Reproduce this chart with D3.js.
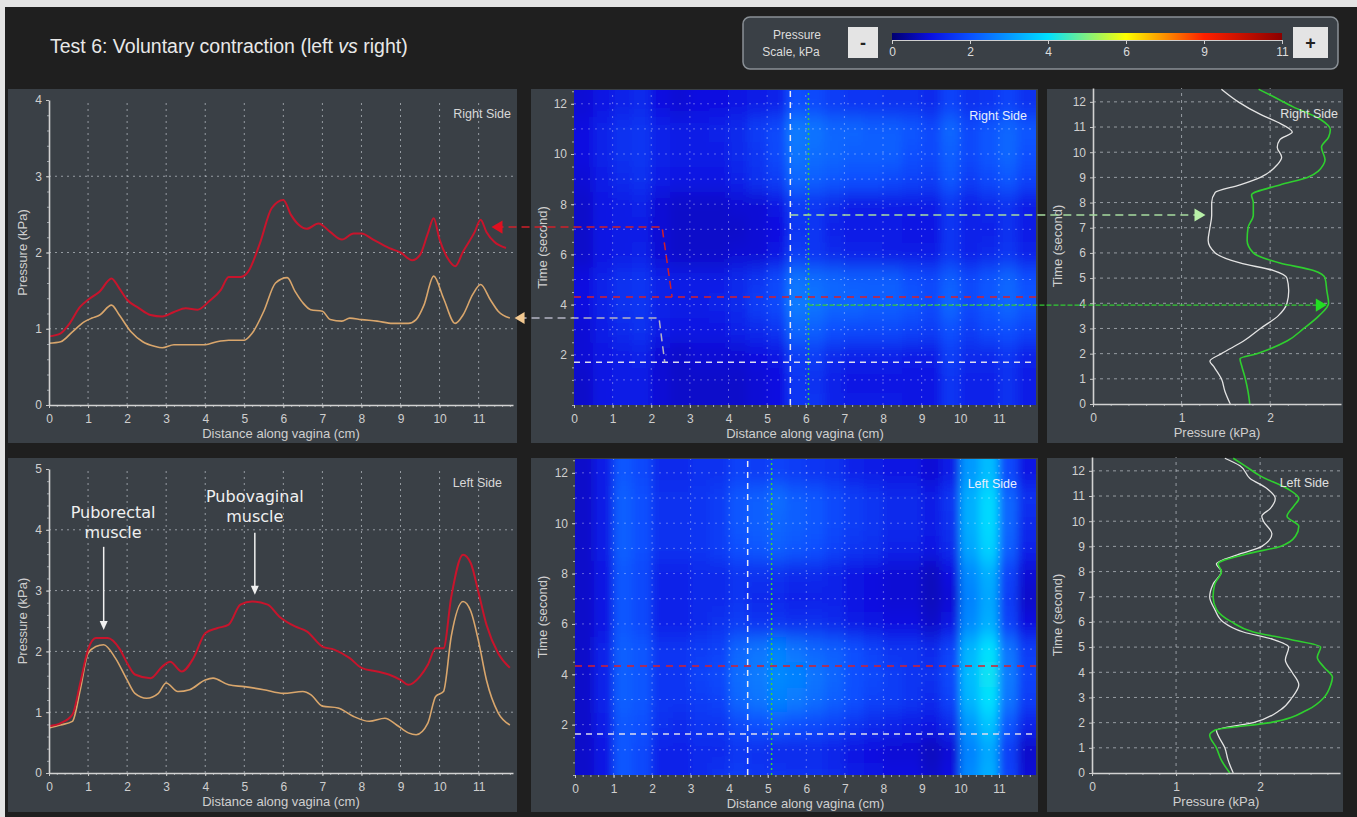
<!DOCTYPE html>
<html>
<head>
<meta charset="utf-8">
<script src="https://cdn.jsdelivr.net/npm/d3@7"></script>
<style>
  body { margin: 0; background: #e4e4e4; }
  svg { display: block; }
</style>
</head>
<body>
<script>
const FONT = "'Liberation Sans', Arial, sans-serif";

// ---- data ----
// right side, pressure along the vagina (cm, kPa)
const rightRed = [[0,0.9],[0.3,0.94],[0.5,1.05],[0.8,1.29],[1.0,1.38],[1.3,1.49],[1.6,1.66],[1.8,1.53],[2.0,1.38],[2.3,1.27],[2.6,1.18],[2.9,1.16],[3.2,1.22],[3.5,1.27],[3.8,1.25],[4.1,1.36],[4.4,1.51],[4.6,1.68],[4.9,1.68],[5.1,1.75],[5.4,2.12],[5.7,2.58],[6.0,2.69],[6.2,2.49],[6.4,2.36],[6.6,2.31],[6.9,2.38],[7.2,2.27],[7.5,2.17],[7.8,2.25],[8.0,2.25],[8.3,2.17],[8.7,2.06],[9.0,2.0],[9.3,1.9],[9.5,1.97],[9.7,2.25],[9.85,2.45],[10.0,2.17],[10.2,1.93],[10.4,1.82],[10.6,2.01],[10.9,2.27],[11.05,2.43],[11.2,2.27],[11.4,2.14],[11.7,2.06]];
const rightTan = [[0,0.81],[0.3,0.83],[0.6,0.96],[0.9,1.09],[1.1,1.14],[1.3,1.18],[1.6,1.31],[1.8,1.18],[2.1,0.96],[2.4,0.83],[2.7,0.77],[2.9,0.75],[3.2,0.79],[3.6,0.79],[4.0,0.79],[4.3,0.83],[4.6,0.85],[5.0,0.85],[5.2,0.94],[5.5,1.23],[5.8,1.6],[6.1,1.67],[6.3,1.49],[6.5,1.34],[6.7,1.25],[7.0,1.23],[7.2,1.12],[7.5,1.1],[7.7,1.14],[8.0,1.12],[8.4,1.1],[8.8,1.07],[9.2,1.07],[9.4,1.12],[9.6,1.31],[9.85,1.69],[10.1,1.4],[10.4,1.07],[10.6,1.18],[10.85,1.45],[11.05,1.58],[11.3,1.38],[11.5,1.23],[11.8,1.14]];
// left side, pressure along the vagina
const leftRed = [[0,0.77],[0.3,0.82],[0.6,0.96],[0.8,1.48],[1.0,2.03],[1.2,2.22],[1.5,2.22],[1.8,2.05],[2.0,1.81],[2.2,1.62],[2.6,1.56],[2.9,1.75],[3.1,1.83],[3.4,1.67],[3.7,1.89],[4.0,2.3],[4.3,2.38],[4.6,2.44],[4.9,2.77],[5.2,2.82],[5.6,2.77],[5.9,2.57],[6.3,2.41],[6.6,2.33],[7.0,2.08],[7.3,2.03],[7.7,1.89],[8.0,1.73],[8.4,1.67],[8.7,1.62],[9.0,1.53],[9.2,1.45],[9.5,1.59],[9.7,1.78],[9.9,2.05],[10.1,2.05],[10.3,2.9],[10.6,3.59],[10.8,3.45],[11.0,2.96],[11.2,2.44],[11.5,1.97],[11.8,1.73]];
const leftTan = [[0,0.74],[0.3,0.79],[0.6,0.85],[0.8,1.37],[1.0,1.97],[1.2,2.08],[1.4,2.11],[1.7,1.89],[2.0,1.53],[2.2,1.31],[2.5,1.23],[2.8,1.31],[3.0,1.48],[3.3,1.34],[3.6,1.37],[4.0,1.53],[4.2,1.56],[4.6,1.45],[5.0,1.42],[5.5,1.37],[6.0,1.31],[6.5,1.34],[6.7,1.29],[7.0,1.1],[7.4,1.07],[7.8,0.93],[8.2,0.85],[8.6,0.9],[8.9,0.79],[9.2,0.66],[9.4,0.63],[9.7,0.82],[9.9,1.26],[10.1,1.34],[10.3,2.25],[10.6,2.82],[10.8,2.66],[11.0,2.16],[11.2,1.53],[11.5,0.99],[11.8,0.79]];

// pressure over time (second, kPa)
const rightTimeWhite = [[0,1.55],[0.5,1.49],[1.0,1.45],[1.5,1.36],[1.7,1.32],[2.0,1.45],[2.5,1.7],[3.0,1.89],[3.5,2.09],[4.0,2.19],[4.5,2.21],[5.0,2.19],[5.3,2.04],[5.6,1.66],[6.0,1.38],[6.5,1.3],[7.0,1.32],[7.5,1.34],[8.0,1.34],[8.4,1.38],[8.7,1.66],[9.0,1.89],[9.5,2.08],[9.8,2.13],[10.2,2.08],[10.5,2.11],[10.8,2.25],[11.2,2.08],[11.5,1.89],[12.0,1.64],[12.5,1.45]];
const rightTimeGreen = [[0,1.77],[0.5,1.75],[1.0,1.72],[1.5,1.68],[1.8,1.66],[2.0,1.85],[2.5,2.19],[3.0,2.38],[3.5,2.55],[4.0,2.66],[4.5,2.64],[5.0,2.62],[5.3,2.49],[5.6,2.11],[6.0,1.81],[6.5,1.74],[7.0,1.75],[7.5,1.81],[8.0,1.81],[8.3,1.79],[8.7,2.11],[9.0,2.42],[9.5,2.6],[9.7,2.62],[10.2,2.58],[10.6,2.66],[10.9,2.68],[11.3,2.57],[11.8,2.26],[12.2,2.04],[12.5,1.87]];
const leftTimeWhite = [[0,1.68],[0.5,1.62],[1.0,1.58],[1.5,1.5],[1.7,1.48],[2.0,1.92],[2.5,2.24],[3.0,2.38],[3.5,2.46],[4.0,2.38],[4.5,2.3],[5.0,2.34],[5.3,2.16],[5.6,1.8],[6.0,1.56],[6.5,1.46],[7.0,1.4],[7.5,1.44],[8.0,1.54],[8.3,1.48],[8.7,1.76],[9.0,2.02],[9.5,2.14],[10.0,2.04],[10.2,2.02],[10.5,2.12],[10.9,2.18],[11.3,2.08],[11.7,1.88],[12.2,1.76],[12.5,1.58]];
const leftTimeGreen = [[0,1.64],[0.5,1.54],[1.0,1.48],[1.5,1.4],[1.7,1.46],[2.0,2.12],[2.5,2.56],[3.0,2.76],[3.5,2.84],[3.8,2.86],[4.2,2.76],[4.6,2.68],[5.0,2.72],[5.3,2.36],[5.6,1.92],[6.0,1.66],[6.5,1.48],[7.0,1.44],[7.5,1.46],[8.0,1.54],[8.3,1.5],[8.7,1.84],[9.0,2.24],[9.4,2.42],[9.8,2.46],[10.2,2.32],[10.6,2.4],[10.9,2.46],[11.3,2.32],[11.8,2.0],[12.2,1.82],[12.5,1.68]];

// pressure maps: columns along the vagina (cm), rows in time (s), values in kPa
const heatX = [0.25,0.75,1.25,1.75,2.25,2.75,3.25,3.75,4.25,4.75,5.25,5.75,6.25,6.75,7.25,7.75,8.25,8.75,9.25,9.75,10.25,10.75,11.25,11.75];
const heatT = [0,1,2,3,4,5,6,7,8,9,10,11,12];
const rightMap = [
  [0.8,1.1,1.2,1.2,0.9,0.8,0.8,0.8,0.8,0.9,1.0,1.6,1.6,1.3,1.2,1.2,1.2,1.1,1.1,1.6,1.3,1.3,1.5,1.2],
  [0.8,1.1,1.2,1.2,0.9,0.8,0.8,0.8,0.8,0.9,1.0,1.6,1.5,1.3,1.1,1.1,1.1,1.1,1.1,1.6,1.3,1.3,1.5,1.2],
  [0.9,1.1,1.2,1.3,0.9,0.8,0.9,0.9,0.9,1.0,1.1,1.7,1.7,1.4,1.3,1.3,1.3,1.2,1.2,1.7,1.4,1.4,1.6,1.3],
  [0.9,1.2,1.4,1.5,1.2,1.1,1.1,1.1,1.3,1.4,1.6,2.3,2.2,2.0,1.9,1.9,1.9,1.8,1.7,2.0,1.7,1.9,2.0,1.8],
  [1.0,1.3,1.5,1.6,1.3,1.2,1.2,1.3,1.4,1.7,1.9,2.6,2.5,2.3,2.3,2.2,2.2,2.1,1.9,2.3,1.9,2.1,2.3,2.1],
  [1.0,1.3,1.5,1.6,1.3,1.2,1.2,1.2,1.4,1.6,1.9,2.5,2.4,2.3,2.2,2.2,2.2,2.0,1.9,2.2,1.9,2.1,2.3,2.0],
  [0.8,1.1,1.2,1.3,0.9,0.8,0.8,0.8,0.9,0.9,1.1,1.7,1.6,1.4,1.3,1.3,1.2,1.2,1.2,1.6,1.3,1.4,1.6,1.3],
  [0.8,1.1,1.2,1.2,0.9,0.8,0.8,0.8,0.8,0.9,1.0,1.6,1.6,1.3,1.2,1.2,1.2,1.1,1.1,1.6,1.3,1.3,1.5,1.2],
  [0.8,1.1,1.2,1.3,0.9,0.8,0.8,0.8,0.9,0.9,1.1,1.7,1.6,1.4,1.2,1.2,1.2,1.2,1.2,1.6,1.3,1.4,1.5,1.2],
  [0.9,1.2,1.4,1.5,1.2,1.1,1.1,1.1,1.3,1.5,1.7,2.3,2.2,2.1,2.0,2.0,1.9,1.8,1.7,2.1,1.7,1.9,2.1,1.8],
  [1.0,1.3,1.5,1.6,1.3,1.2,1.2,1.2,1.4,1.6,1.9,2.5,2.4,2.3,2.2,2.2,2.2,2.0,1.9,2.2,1.9,2.1,2.3,2.0],
  [1.0,1.3,1.5,1.6,1.3,1.2,1.2,1.3,1.4,1.7,1.9,2.6,2.5,2.3,2.3,2.2,2.2,2.1,1.9,2.3,1.9,2.1,2.3,2.1],
  [0.9,1.1,1.3,1.4,1.0,0.9,1.0,1.0,1.1,1.2,1.3,2.0,1.9,1.7,1.6,1.6,1.5,1.5,1.4,1.8,1.5,1.6,1.8,1.5]
];
const leftMap = [
  [0.8,1.1,2.1,1.9,1.3,1.3,1.4,1.5,1.7,1.6,1.6,1.5,1.5,1.4,1.2,1.1,1.0,1.0,0.8,1.0,2.8,3.3,1.8,0.9],
  [0.8,1.1,2.1,1.9,1.3,1.3,1.4,1.4,1.6,1.5,1.4,1.4,1.4,1.3,1.1,1.0,0.9,0.9,0.7,0.9,2.7,3.2,1.7,0.8],
  [0.8,1.2,2.1,2.0,1.5,1.4,1.6,1.6,1.9,2.0,2.1,2.0,1.9,1.8,1.6,1.4,1.3,1.2,1.1,1.4,3.0,3.6,2.1,1.3],
  [0.8,1.3,2.2,2.1,1.6,1.6,1.7,1.8,2.3,2.5,2.7,2.6,2.4,2.2,2.0,1.8,1.7,1.6,1.4,1.8,3.4,4.0,2.5,1.7],
  [0.8,1.3,2.2,2.1,1.6,1.6,1.8,1.9,2.4,2.6,2.8,2.7,2.5,2.3,2.0,1.9,1.7,1.6,1.5,1.9,3.5,4.1,2.6,1.8],
  [0.8,1.3,2.2,2.1,1.6,1.6,1.7,1.8,2.3,2.5,2.7,2.5,2.3,2.2,2.0,1.8,1.6,1.6,1.4,1.8,3.4,4.0,2.5,1.7],
  [0.8,1.1,2.1,1.9,1.3,1.3,1.4,1.5,1.7,1.6,1.6,1.5,1.5,1.4,1.2,1.1,1.0,1.0,0.8,1.1,2.8,3.3,1.8,1.0],
  [0.8,1.1,2.1,1.9,1.3,1.3,1.4,1.4,1.6,1.4,1.4,1.3,1.3,1.3,1.1,1.0,0.9,0.9,0.7,0.9,2.7,3.2,1.7,0.8],
  [0.8,1.1,2.1,1.9,1.3,1.3,1.4,1.4,1.6,1.5,1.5,1.4,1.4,1.3,1.1,1.0,0.9,0.9,0.7,1.0,2.8,3.3,1.8,0.9],
  [0.8,1.2,2.2,2.0,1.5,1.5,1.6,1.7,2.0,2.1,2.2,2.1,2.0,1.8,1.6,1.5,1.3,1.3,1.1,1.4,3.2,3.8,2.2,1.3],
  [0.8,1.2,2.2,2.0,1.5,1.5,1.6,1.7,2.1,2.2,2.3,2.2,2.1,1.9,1.7,1.6,1.4,1.4,1.2,1.5,3.3,3.9,2.3,1.4],
  [0.8,1.2,2.2,2.0,1.5,1.5,1.6,1.7,2.1,2.2,2.4,2.2,2.1,1.9,1.7,1.6,1.4,1.4,1.2,1.6,3.3,3.9,2.3,1.5],
  [0.8,1.2,2.1,1.9,1.4,1.4,1.5,1.5,1.8,1.7,1.8,1.7,1.6,1.5,1.3,1.2,1.1,1.1,0.9,1.2,3.0,3.5,1.9,1.1]
];

// colour scale ticks (kPa) and colours
const legendTicks = [0, 2, 4, 6, 9, 11];
const pressureStops = [0, 1, 2, 4, 6, 9, 11];
const pressureColors = ["#000070", "#0a10e0", "#0a50ff", "#00e0ff", "#ffff00", "#ff2000", "#8b0000"];

// tick labels
const distTicks = [0,1,2,3,4,5,6,7,8,9,10,11];
const timeTicks = [0,1,2,3,4,5,6,7,8,9,10,11,12];
const mapTimeTicks = [2,4,6,8,10,12];
const kpaTicks = [0,1,2];

// ---- drawing ----
const W = 1357, H = 817;
const svg = d3.select("body").append("svg").attr("width", W).attr("height", H);
const defs = svg.append("defs");
const pressureColor = d3.scaleLinear().domain(pressureStops).range(pressureColors);
const fmt = d3.format("d");

svg.append("rect").attr("x", 5).attr("y", 7).attr("width", W - 5).attr("height", H - 7).attr("fill", "#1f1f1f");

// title
const title = svg.append("text").attr("x", 50).attr("y", 53)
  .attr("fill", "#e8e8e8").style("font", `19.5px ${FONT}`);
title.append("tspan").text("Test 6: Voluntary contraction (left ");
title.append("tspan").style("font-style", "italic").text("vs");
title.append("tspan").text(" right)");

// legend
svg.append("rect").attr("x", 743).attr("y", 17).attr("width", 595).attr("height", 52).attr("rx", 7)
  .attr("fill", "#3a4046").attr("stroke", "#8a9096").attr("stroke-width", 1.5);
svg.append("text").attr("x", 797).attr("y", 39).attr("text-anchor", "middle").attr("fill", "#dcdcdc")
  .style("font", `12px ${FONT}`).text("Pressure");
svg.append("text").attr("x", 791).attr("y", 56).attr("text-anchor", "middle").attr("fill", "#dcdcdc")
  .style("font", `12px ${FONT}`).text("Scale, kPa");
[[848, 30, "-"], [1293, 35, "+"]].forEach(([bx, bw, s]) => {
  svg.append("rect").attr("x", bx).attr("y", 27).attr("width", bw).attr("height", 31).attr("fill", "#e4e4e4");
  svg.append("text").attr("x", bx + bw / 2).attr("y", 49).attr("text-anchor", "middle").attr("fill", "#222")
    .style("font", `bold 18px ${FONT}`).text(s);
});
const barX0 = 892, barX1 = 1282;
const legendX = d3.scaleLinear().domain(legendTicks)
  .range(legendTicks.map((d, i) => barX0 + i * (barX1 - barX0) / (legendTicks.length - 1)));
const grad = defs.append("linearGradient").attr("id", "pgrad");
d3.range(0, 1.0001, 0.025).forEach(p => {
  grad.append("stop").attr("offset", p).attr("stop-color", pressureColor(legendX.invert(barX0 + p * (barX1 - barX0))));
});
svg.append("rect").attr("x", barX0).attr("y", 33).attr("width", barX1 - barX0).attr("height", 7).attr("fill", "url(#pgrad)");
const lg = svg.append("g").attr("transform", "translate(0,40)")
  .call(d3.axisBottom(legendX).tickValues(legendTicks).tickFormat(fmt).tickSize(4).tickPadding(3).tickSizeOuter(0));
lg.select(".domain").attr("stroke", "#cfcfcf");
lg.selectAll(".tick line").attr("stroke", "#cfcfcf");
lg.selectAll(".tick text").attr("fill", "#dcdcdc").style("font", `12px ${FONT}`);

// panels
function panel(x, y, w, h) {
  svg.append("rect").attr("x", x).attr("y", y).attr("width", w).attr("height", h).attr("fill", "#3a4046");
}
panel(8, 89, 509, 354); panel(531, 89, 507, 354); panel(1047, 89, 296, 354);
panel(8, 458, 509, 354); panel(531, 458, 507, 354); panel(1047, 458, 296, 354);

// scales
const xTL = d3.scaleLinear([0, 11.88], [49, 513]), yTL = d3.scaleLinear([0, 4], [405, 100]);
const xBL = d3.scaleLinear([0, 11.88], [49, 513]), yBL = d3.scaleLinear([0, 5], [773, 469]);
const xTM = d3.scaleLinear([0, 11.96], [574, 1036]), yTM = d3.scaleLinear([0, 12.55], [405, 90]);
const xBM = d3.scaleLinear([0, 11.96], [575, 1036]), yBM = d3.scaleLinear([0, 12.55], [775, 459]);
const xTR = d3.scaleLinear([0, 2.8], [1093, 1341]), yTR = d3.scaleLinear([0, 12.55], [404, 88]);
const xBR = d3.scaleLinear([0, 2.95], [1092, 1340]), yBR = d3.scaleLinear([0, 12.55], [773, 457]);

function grid(xs, ys, xv, yv, color, op, dash) {
  const g = svg.append("g").attr("stroke", color).attr("stroke-opacity", op).attr("stroke-dasharray", dash);
  g.selectAll("line.v").data(xv).join("line").attr("class", "v")
    .attr("x1", d => xs(d)).attr("x2", d => xs(d)).attr("y1", ys.range()[0]).attr("y2", ys.range()[1]);
  g.selectAll("line.h").data(yv).join("line").attr("class", "h")
    .attr("y1", d => ys(d)).attr("y2", d => ys(d)).attr("x1", xs.range()[0]).attr("x2", xs.range()[1]);
}

function styleAxis(g, showDomain) {
  g.select(".domain").attr("stroke", showDomain ? "#d2d2d2" : "none").attr("stroke-width", 1.6);
  g.selectAll(".tick line").attr("stroke", "#c8c8c8");
  g.selectAll(".tick text").attr("fill", "#cfcfcf").style("font", `12px ${FONT}`);
}

function minor(xs, ys, xStep, yStep, color) {
  const [x0, x1] = xs.range(), [y0, y1] = ys.range();
  if (xStep) {
    const g = svg.append("g").attr("transform", `translate(0,${y0})`)
      .call(d3.axisBottom(xs).tickValues(d3.range(0, xs.domain()[1], xStep)).tickSize(2).tickFormat(""));
    g.select(".domain").remove();
    g.selectAll(".tick line").attr("stroke", color);
  }
  if (yStep) {
    const g = svg.append("g").attr("transform", `translate(${x0},0)`)
      .call(d3.axisLeft(ys).tickValues(d3.range(0, ys.domain()[1], yStep)).tickSize(2).tickFormat(""));
    g.select(".domain").remove();
    g.selectAll(".tick line").attr("stroke", color);
  }
}

function axes(xs, ys, xv, yv, showDomain) {
  const [x0] = xs.range(), [y0] = ys.range();
  const gx = svg.append("g").attr("transform", `translate(0,${y0})`)
    .call(d3.axisBottom(xs).tickValues(xv).tickFormat(fmt).tickSize(3).tickPadding(6).tickSizeOuter(0));
  styleAxis(gx, showDomain);
  const gy = svg.append("g").attr("transform", `translate(${x0},0)`)
    .call(d3.axisLeft(ys).tickValues(yv).tickFormat(fmt).tickSize(3).tickPadding(4).tickSizeOuter(0));
  styleAxis(gy, showDomain);
}

function titles(xs, ys, xt, yt, yx) {
  const [x0, x1] = xs.range(), [y0, y1] = ys.range();
  svg.append("text").attr("x", (x0 + x1) / 2).attr("y", y0 + 33).attr("text-anchor", "middle")
    .attr("fill", "#cfcfcf").style("font", `13px ${FONT}`).text(xt);
  svg.append("text").attr("transform", `translate(${yx},${(y0 + y1) / 2}) rotate(-90)`).attr("text-anchor", "middle")
    .attr("fill", "#cfcfcf").style("font", `13px ${FONT}`).text(yt);
}

function sideLabel(x, y, t, fill) {
  svg.append("text").attr("x", x).attr("y", y).attr("text-anchor", "end").attr("fill", fill)
    .style("font", `12.5px ${FONT}`).text(t);
}

// ---- distance profiles (left column) ----
function profile(xs, ys, yv, yGrid, red, tan) {
  grid(xs, ys, distTicks.slice(1), yGrid, "#b4bac0", 0.75, "2,4");
  const line = d3.line().x(d => xs(d[0])).y(d => ys(d[1])).curve(d3.curveMonotoneX);
  svg.append("path").datum(tan).attr("d", line).attr("fill", "none").attr("stroke", "#d9a66c").attr("stroke-width", 1.6);
  svg.append("path").datum(red).attr("d", line).attr("fill", "none").attr("stroke", "#c8142c").attr("stroke-width", 2);
  minor(xs, ys, 0.2, 0.2, "#9aa0a6");
  axes(xs, ys, distTicks, yv, true);
  titles(xs, ys, "Distance along vagina (cm)", "Pressure (kPa)", 27);
}
profile(xTL, yTL, [0,1,2,3,4], [1,2,3], rightRed, rightTan);
sideLabel(511, 118, "Right Side", "#d8d8d8");
profile(xBL, yBL, [0,1,2,3,4,5], [1,2,3,4], leftRed, leftTan);
sideLabel(502, 487, "Left Side", "#d8d8d8");

// ---- pressure maps (middle column) ----
function heatmap(id, xs, ys, data) {
  const [x0, x1] = xs.range(), [y0, y1] = ys.range();
  defs.append("clipPath").attr("id", "clip" + id).append("rect")
    .attr("x", x0).attr("y", y1).attr("width", x1 - x0).attr("height", y0 - y1);
  defs.append("filter").attr("id", "blur" + id).attr("filterUnits", "userSpaceOnUse")
    .attr("x", x0 - 60).attr("y", y1 - 60).attr("width", x1 - x0 + 120).attr("height", y0 - y1 + 120)
    .append("feGaussianBlur").attr("stdDeviation", "4.5 9");
  const cells = data.flatMap((row, i) => row.map((v, j) => ({ i, j, v })));
  const nr = heatT.length, nc = heatX.length;
  const inner = svg.append("g").attr("clip-path", `url(#clip${id})`)
    .append("g").attr("filter", `url(#blur${id})`);
  inner.selectAll("rect").data(cells).join("rect")
    .attr("x", d => xs(d.j === 0 ? -1.5 : heatX[d.j] - 0.25) - 0.5)
    .attr("width", d => xs(d.j === nc - 1 ? 13.5 : heatX[d.j] + 0.25) - xs(d.j === 0 ? -1.5 : heatX[d.j] - 0.25) + 1)
    .attr("y", d => ys(d.i === nr - 1 ? 14.5 : heatT[d.i] + 0.5) - 0.5)
    .attr("height", d => ys(d.i === 0 ? -1.5 : heatT[d.i] - 0.5) - ys(d.i === nr - 1 ? 14.5 : heatT[d.i] + 0.5) + 1)
    .attr("fill", d => pressureColor(d.v));
  grid(xs, ys, distTicks.slice(1), timeTicks.slice(1), "#ffffff", 0.35, "2,5");
  minor(xs, ys, 0.2, 0.5, "#aab0b6");
  axes(xs, ys, distTicks, mapTimeTicks, false);
  titles(xs, ys, "Distance along vagina (cm)", "Time (second)", 547);
}
heatmap("R", xTM, yTM, rightMap);
sideLabel(1027, 120, "Right Side", "#e8eefc");
heatmap("L", xBM, yBM, leftMap);
sideLabel(1017, 488, "Left Side", "#e8eefc");

// ---- time profiles (right column) ----
function timeProfile(xs, ys, white, green) {
  grid(xs, ys, [1, 2], timeTicks.slice(1), "#b4bac0", 0.75, "3,4");
  const line = d3.line().x(d => xs(d[1])).y(d => ys(d[0])).curve(d3.curveMonotoneY);
  svg.append("path").datum(white).attr("d", line).attr("fill", "none").attr("stroke", "#e4e4e4").attr("stroke-width", 1.3);
  svg.append("path").datum(green).attr("d", line).attr("fill", "none").attr("stroke", "#2fcf2f").attr("stroke-width", 1.6);
  minor(xs, ys, 0.2, null, "#9aa0a6");
  axes(xs, ys, kpaTicks, timeTicks, true);
  titles(xs, ys, "Pressure (kPa)", "Time (second)", 1062);
}
timeProfile(xTR, yTR, rightTimeWhite, rightTimeGreen);
sideLabel(1338, 118, "Right Side", "#e0e0e0");
timeProfile(xBR, yBR, leftTimeWhite, leftTimeGreen);
sideLabel(1329, 487, "Left Side", "#e0e0e0");

// ---- cursors and links ----
function dashed(pts, color, dash, width) {
  svg.append("path").attr("d", d3.line()(pts)).attr("fill", "none")
    .attr("stroke", color).attr("stroke-dasharray", dash).attr("stroke-width", width || 1.5);
}
function arrowHead(x, y, dir, color, size) {
  const s = size || 9;
  const pts = [[x, y], [x - dir * s, y - s * 0.6], [x - dir * s, y + s * 0.6]];
  svg.append("path").attr("d", d3.line()(pts) + "Z").attr("fill", color);
}

// top map cursors
dashed([[xTM(0), yTM(4.3)], [xTM.range()[1], yTM(4.3)]], "#d8202c", "7,6");
dashed([[xTM(0), yTM(1.7)], [xTM.range()[1], yTM(1.7)]], "#dcdcf0", "6,5");
dashed([[xTM(5.6), yTM(0)], [xTM(5.6), yTM.range()[1]]], "#e8e8f4", "6,5");
dashed([[xTM(6.07), yTM(0)], [xTM(6.07), yTM.range()[1]]], "#3ad13a", "2,3");
// red link to the right-side distance profile
dashed([[xTL(11.33) + 4, yTM(7.09)], [xTM(2.28), yTM(7.09)], [xTM(2.54), yTM(4.3)]], "#d0202a", "8,5");
arrowHead(xTL(11.33), yTM(7.09), -1, "#e01020", 11);
// grey link
dashed([[xTL(11.92) + 4, yTM(3.47)], [xTM(2.2), yTM(3.47)], [xTM(2.35), yTM(1.7)]], "#b4b4c4", "8,5");
arrowHead(xTL(11.92), yTM(3.47), -1, "#f2c890", 10);
// green links to the right-side time profile
dashed([[xTM(5.6), yTM(7.57)], [xTR(1.27) - 8, yTM(7.57)]], "#a8dca0", "8,5");
arrowHead(xTR(1.27), yTM(7.57), 1, "#b8f0a8", 11);
dashed([[xTM(6.07), yTM(3.98)], [xTR(2.64) - 8, yTM(3.98)]], "#33cc33", "5,2", 1.2);
arrowHead(xTR(2.64), yTM(3.98), 1, "#22dd22", 11);

// bottom map cursors
dashed([[xBM(0), yBM(4.33)], [xBM.range()[1], yBM(4.33)]], "#d8202c", "7,6");
dashed([[xBM(0), yBM(1.63)], [xBM.range()[1], yBM(1.63)]], "#dcdcf0", "6,5");
dashed([[xBM(4.48), yBM(0)], [xBM(4.48), yBM.range()[1]]], "#e8e8f4", "6,5");
dashed([[xBM(5.1), yBM(0)], [xBM(5.1), yBM.range()[1]]], "#3ad13a", "2,3");

// muscle annotations
const notes = [
  { lines: ["Puborectal", "muscle"], tx: 1.64, ty: 4.19, ax: 1.4, from: 3.72, to: 2.35 },
  { lines: ["Pubovaginal", "muscle"], tx: 5.27, ty: 4.45, ax: 5.27, from: 3.95, to: 2.93 }
];
notes.forEach(n => {
  n.lines.forEach((s, i) => {
    svg.append("text").attr("x", xBL(n.tx)).attr("y", yBL(n.ty) + i * 20).attr("text-anchor", "middle")
      .attr("fill", "#f0f0f0").style("font", "16px 'DejaVu Sans', sans-serif").text(s);
  });
  svg.append("line").attr("x1", xBL(n.ax)).attr("x2", xBL(n.ax)).attr("y1", yBL(n.from)).attr("y2", yBL(n.to) - 7)
    .attr("stroke", "#f0f0f0").attr("stroke-width", 1.5);
  const x = xBL(n.ax), y = yBL(n.to);
  svg.append("path").attr("d", d3.line()([[x, y], [x - 4, y - 9], [x + 4, y - 9]]) + "Z").attr("fill", "#f0f0f0");
});
</script>
</body>
</html>
